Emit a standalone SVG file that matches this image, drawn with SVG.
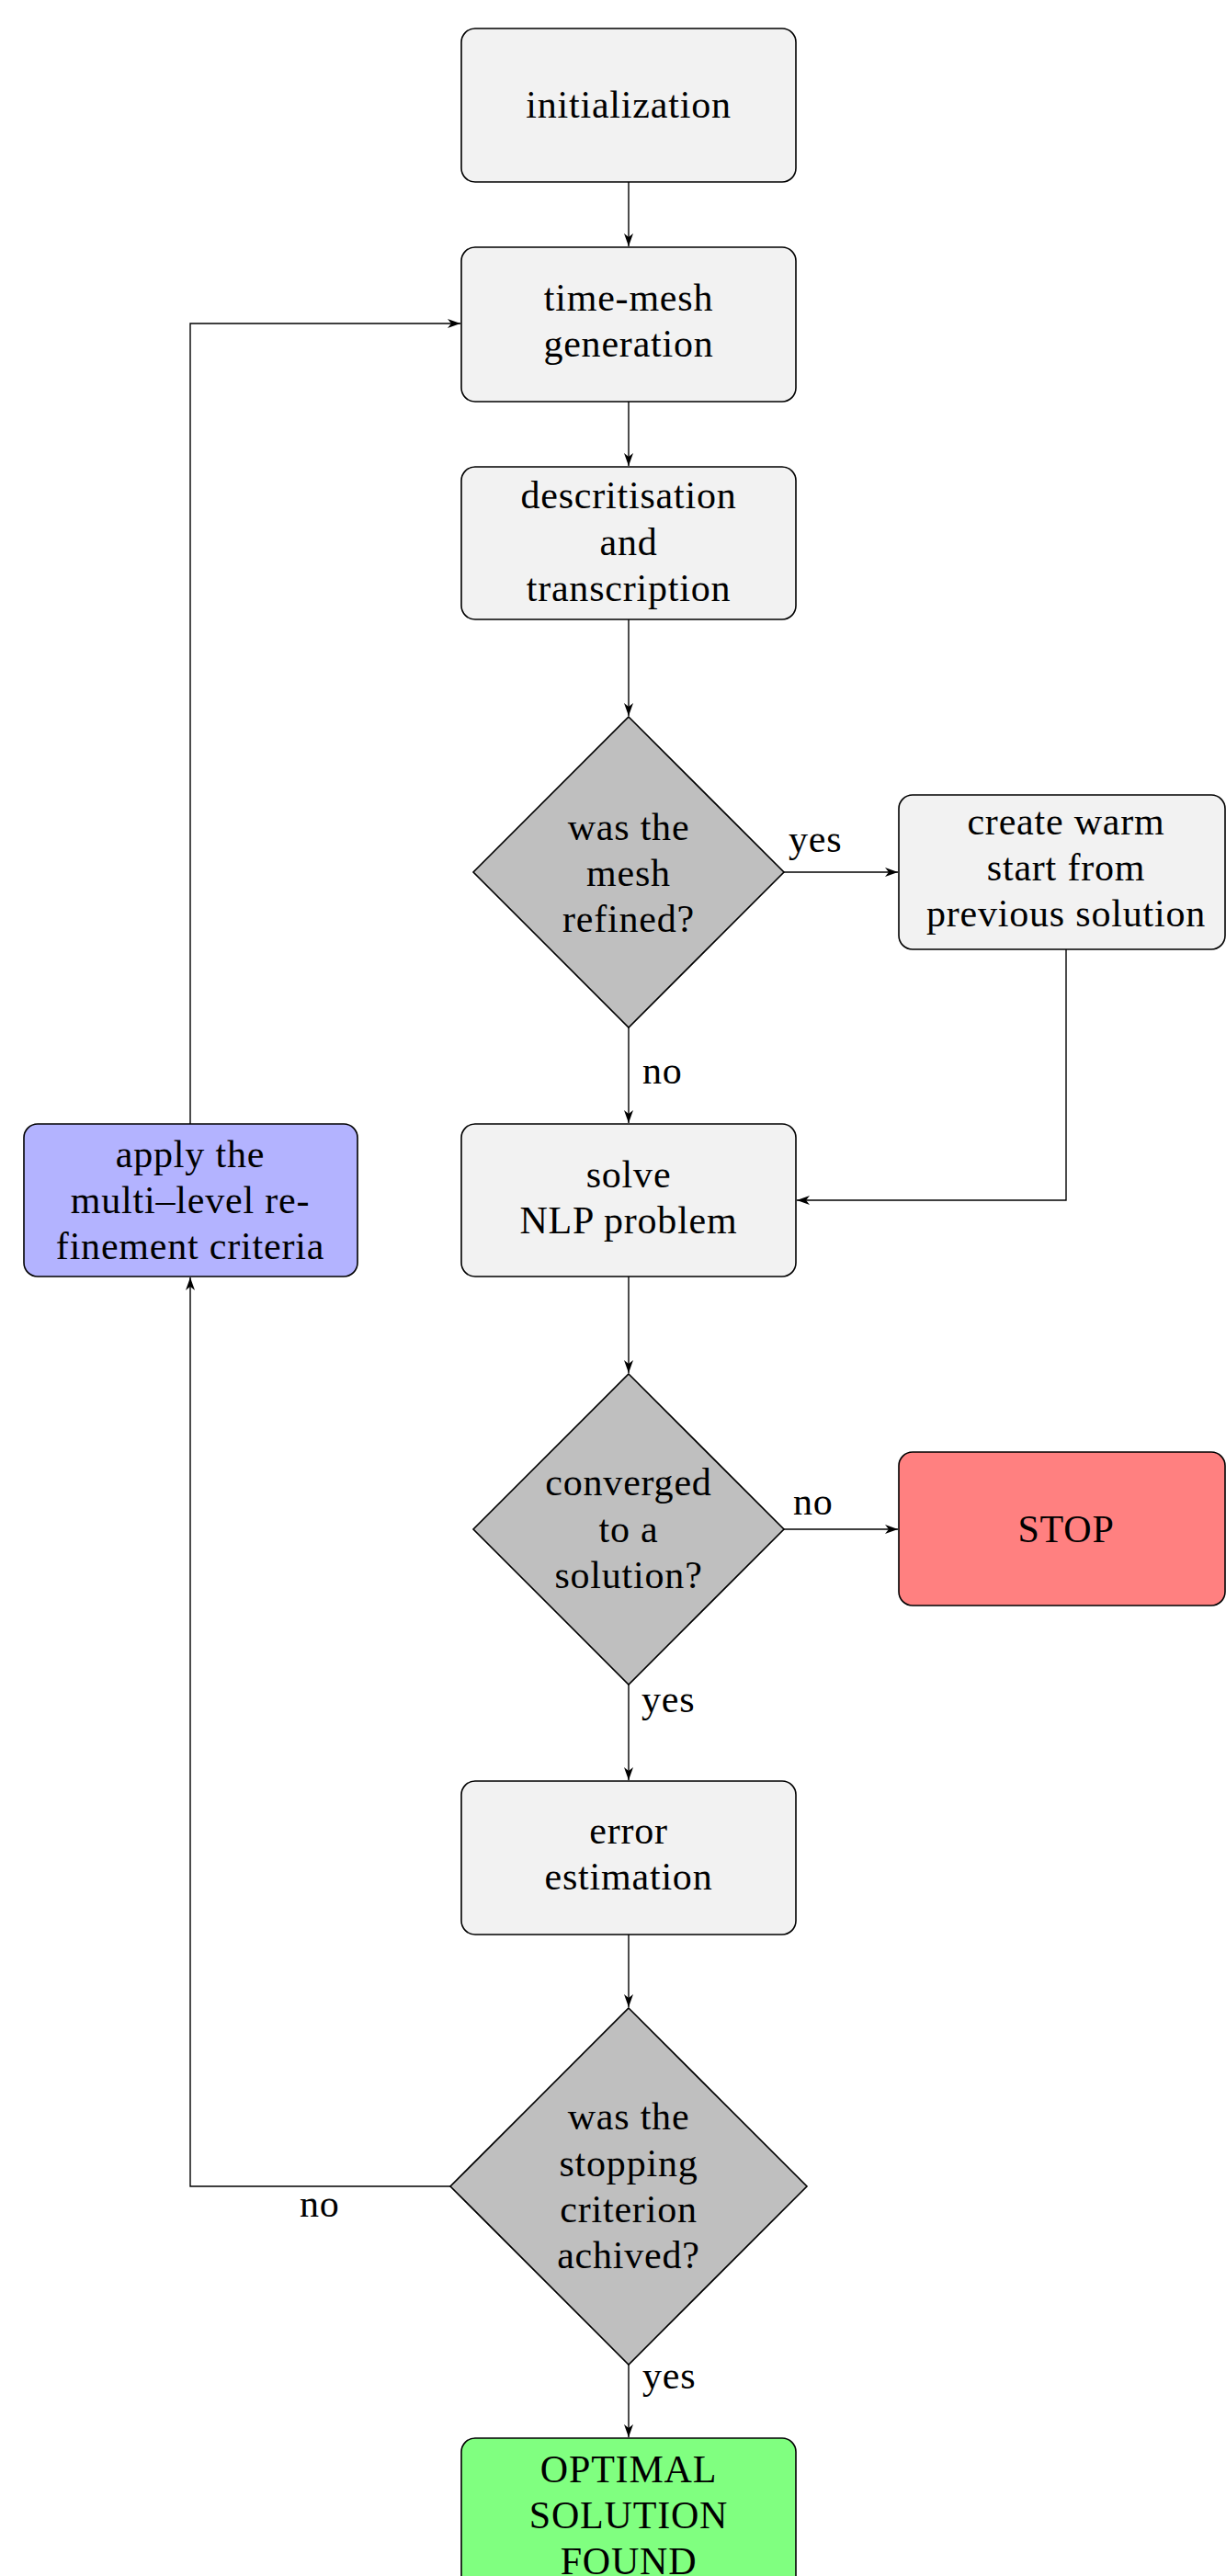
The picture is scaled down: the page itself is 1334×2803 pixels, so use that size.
<svg xmlns="http://www.w3.org/2000/svg" width="1334" height="2803" viewBox="0 0 1334 2803">
<style>
text{font-family:"Liberation Serif","Times New Roman",serif;font-size:42px;fill:#000;letter-spacing:0.8px}
.c{text-anchor:middle}
.box{stroke:#000;stroke-width:1.6}
.proc{fill:#f2f2f2}
.dec{fill:#bfbfbf}
.blue{fill:#b3b3ff}
.red{fill:#ff8080}
.green{fill:#80ff80}
.edge{fill:none;stroke:#000;stroke-width:1.4;marker-end:url(#arr)}
</style>
<defs>
<marker id="arr" viewBox="-15 -7 16 14" refX="0" refY="0" markerWidth="16" markerHeight="14" markerUnits="userSpaceOnUse" orient="auto">
<path d="M0,0 L-14,-5 L-10,0 L-14,5 Z" fill="#000"/>
</marker>
</defs>
<rect width="1334" height="2803" fill="#fff"/>

<g id="connectors">
<path class="edge" d="M684,198 L684,268"/>
<path class="edge" d="M684,437 L684,507"/>
<path class="edge" d="M684,674 L684,779"/>
<path class="edge" d="M853,949 L977,949"/>
<path class="edge" d="M684,1118 L684,1222"/>
<path class="edge" d="M1160,1033 L1160,1306 L867,1306"/>
<path class="edge" d="M684,1389 L684,1494"/>
<path class="edge" d="M853,1664 L977,1664"/>
<path class="edge" d="M684,1833 L684,1937"/>
<path class="edge" d="M684,2105 L684,2184"/>
<path class="edge" d="M684,2573 L684,2652"/>
<path class="edge" d="M490,2379 L207,2379 L207,1390"/>
<path class="edge" d="M207,1223 L207,352 L501,352"/>
<text x="858" y="927">yes</text>
<text x="699" y="1179">no</text>
<text x="863" y="1648">no</text>
<text x="698" y="1863">yes</text>
<text x="326" y="2412">no</text>
<text x="699" y="2599">yes</text>
</g>

<g id="initialization">
<rect class="box proc" x="502" y="31" width="364" height="167" rx="15"/>
<text class="c" x="684" y="128">initialization</text>
</g>

<g id="time-mesh">
<rect class="box proc" x="502" y="269" width="364" height="168" rx="15"/>
<text class="c" x="684" y="338">time-mesh</text>
<text class="c" x="684" y="388">generation</text>
</g>

<g id="descritisation">
<rect class="box proc" x="502" y="508" width="364" height="166" rx="15"/>
<text class="c" x="684" y="553">descritisation</text>
<text class="c" x="684" y="604">and</text>
<text class="c" x="684" y="654">transcription</text>
</g>

<g id="mesh-refined">
<polygon class="box dec" points="684,780 853,949 684,1118 515,949"/>
<text class="c" x="684" y="914">was the</text>
<text class="c" x="684" y="964">mesh</text>
<text class="c" x="684" y="1014">refined?</text>
</g>

<g id="warm-start">
<rect class="box proc" x="978" y="865" width="355" height="168" rx="15"/>
<text class="c" x="1160" y="908">create warm</text>
<text class="c" x="1160" y="958">start from</text>
<text class="c" x="1160" y="1008">previous solution</text>
</g>

<g id="solve-nlp">
<rect class="box proc" x="502" y="1223" width="364" height="166" rx="15"/>
<text class="c" x="684" y="1292">solve</text>
<text class="c" x="684" y="1342">NLP problem</text>
</g>

<g id="apply-refinement">
<rect class="box blue" x="26" y="1223" width="363" height="166" rx="15"/>
<text class="c" x="207" y="1270">apply the</text>
<text class="c" x="207" y="1320">multi–level re-</text>
<text class="c" x="207" y="1370">finement criteria</text>
</g>

<g id="converged">
<polygon class="box dec" points="684,1495 853,1664 684,1833 515,1664"/>
<text class="c" x="684" y="1627">converged</text>
<text class="c" x="684" y="1678">to a</text>
<text class="c" x="684" y="1728">solution?</text>
</g>

<g id="stop">
<rect class="box red" x="978" y="1580" width="355" height="167" rx="15"/>
<text class="c" x="1160" y="1678">STOP</text>
</g>

<g id="error-estimation">
<rect class="box proc" x="502" y="1938" width="364" height="167" rx="15"/>
<text class="c" x="684" y="2006">error</text>
<text class="c" x="684" y="2056">estimation</text>
</g>

<g id="stopping-criterion">
<polygon class="box dec" points="684,2185 878,2379 684,2573 490,2379"/>
<text class="c" x="684" y="2317">was the</text>
<text class="c" x="684" y="2368">stopping</text>
<text class="c" x="684" y="2418">criterion</text>
<text class="c" x="684" y="2468">achived?</text>
</g>

<g id="optimal">
<rect class="box green" x="502" y="2653" width="364" height="167" rx="15"/>
<text class="c" x="684" y="2701">OPTIMAL</text>
<text class="c" x="684" y="2751">SOLUTION</text>
<text class="c" x="684" y="2801">FOUND</text>
</g>
</svg>
